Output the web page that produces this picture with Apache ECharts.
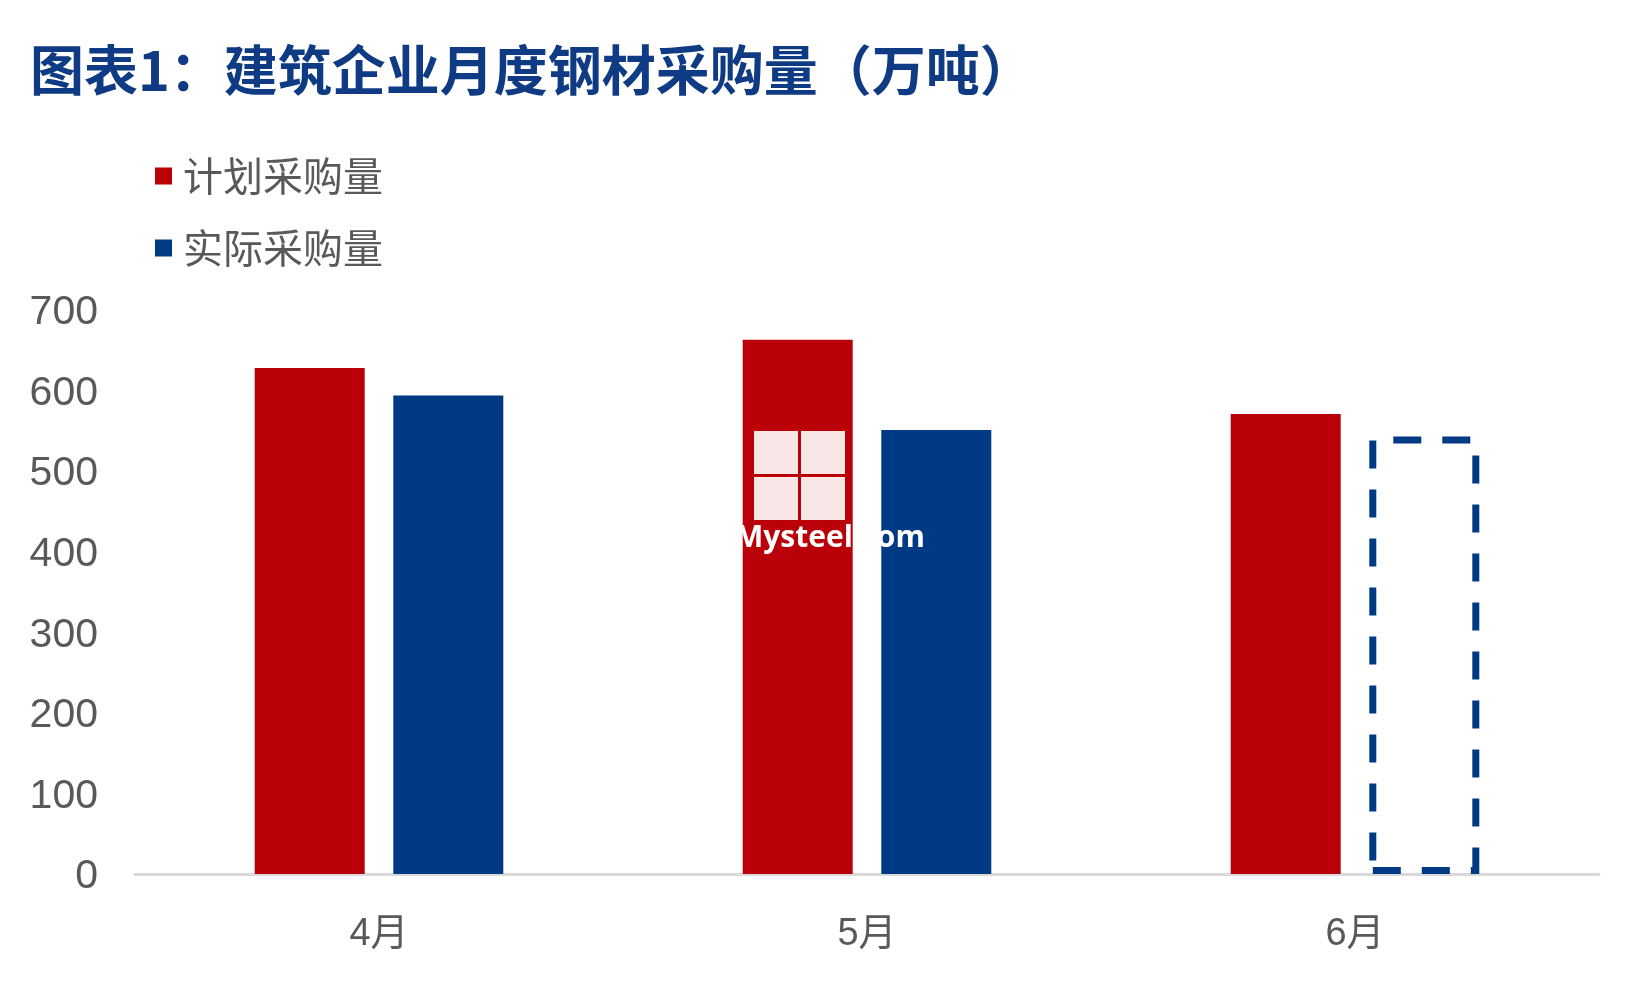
<!DOCTYPE html>
<html>
<head>
<meta charset="utf-8">
<script src="https://cdn.jsdelivr.net/npm/echarts@6/dist/echarts.min.js"></script>
<style>html,body{margin:0;padding:0;background:#fff;}#c{width:1650px;height:990px;}</style>
</head>
<body>
<div id="c"></div>
<script>
const titleText = '图表1：建筑企业月度钢材采购量（万吨）';
const categories = ['4月', '5月', '6月'];
const seriesNames = ['计划采购量', '实际采购量'];
const planned = [628, 663, 571];
const actual = [594, 551, 543];
const actualEstimated = [false, false, true];
const yTicks = { min: 0, max: 700, interval: 100 };

const RED = '#BA0008', BLUE = '#003A84', GREY = '#595959';
const FONT = '"Liberation Sans", "Noto Sans CJK SC", sans-serif';

const chart = echarts.init(document.getElementById('c'), null, { renderer: 'canvas' });
chart.setOption({
  backgroundColor: '#fff',
  animation: false,
  title: {
    text: titleText, left: 25, top: 38,
    textStyle: { fontFamily: '"Noto Sans CJK SC", sans-serif', fontWeight: 'bold', fontSize: 54, color: '#0F3A84' }
  },
  legend: {
    orient: 'vertical', left: 150, top: 151,
    itemWidth: 17, itemHeight: 17, itemGap: 32,
    icon: 'rect',
    data: seriesNames,
    textStyle: { fontFamily: '"Noto Sans CJK SC", sans-serif', fontSize: 40, color: GREY, padding: [0, 0, 0, 6] }
  },
  grid: { left: 135, right: 51, top: 310, bottom: 116, containLabel: false },
  xAxis: {
    type: 'category', data: categories,
    axisTick: { show: false },
    axisLine: { lineStyle: { color: '#D9D9D9', width: 3 } },
    axisLabel: { fontFamily: FONT, fontSize: 38, color: GREY, margin: 42 }
  },
  yAxis: {
    type: 'value', min: yTicks.min, max: yTicks.max, interval: yTicks.interval,
    splitLine: { show: false }, axisLine: { show: false }, axisTick: { show: false },
    axisLabel: { fontFamily: FONT, fontSize: 41, color: GREY, margin: 37, verticalAlign: 'top', lineHeight: 6 }
  },
  series: [
    {
      name: seriesNames[0], type: 'bar', data: planned,
      barWidth: 110, barGap: '26%',
      itemStyle: { color: RED }
    },
    {
      name: seriesNames[1], type: 'bar',
      barWidth: 110, barGap: '26%',
      itemStyle: { color: BLUE },
      data: actual.map((v, i) => actualEstimated[i] ? {
        value: v,
        itemStyle: { color: 'rgba(0,0,0,0)', borderColor: BLUE, borderWidth: 7, borderType: [28, 21] }
      } : v)
    }
  ],
  graphic: [
    { type: 'rect', left: 754, top: 431, shape: { width: 44, height: 43 }, style: { fill: 'rgba(255,255,255,0.9)' }, z: 100 },
    { type: 'rect', left: 801, top: 431, shape: { width: 44, height: 43 }, style: { fill: 'rgba(255,255,255,0.9)' }, z: 100 },
    { type: 'rect', left: 754, top: 477, shape: { width: 44, height: 43 }, style: { fill: 'rgba(255,255,255,0.9)' }, z: 100 },
    { type: 'rect', left: 801, top: 477, shape: { width: 44, height: 43 }, style: { fill: 'rgba(255,255,255,0.9)' }, z: 100 },
    { type: 'text', left: 735, top: 523, z: 100, style: { text: 'Mysteel.com', fill: '#fff', fontFamily: '"Open Sans", sans-serif', fontWeight: 'bold', fontSize: 30 } }
  ]
});
</script>
</body>
</html>
